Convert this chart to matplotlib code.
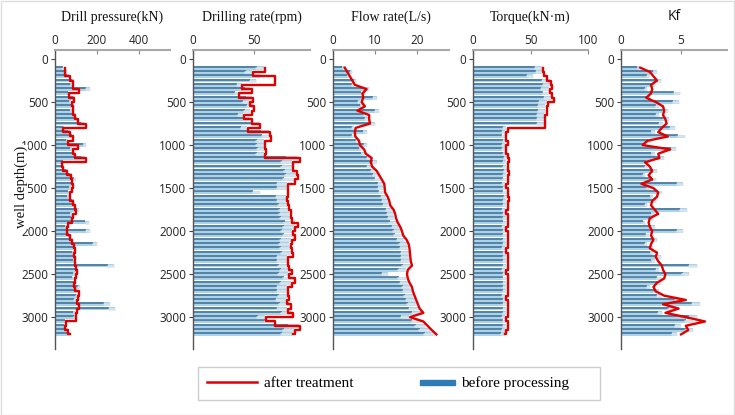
import matplotlib
matplotlib.use('Agg')
import matplotlib.pyplot as plt
import numpy as np
from matplotlib.lines import Line2D
from matplotlib.patches import Rectangle
from matplotlib.legend_handler import HandlerPatch

# depth grid (m)
depth = np.arange(100, 3201, 50)

# Drill pressure (kN)
pressure_after = [48, 50, 72, 86, 88, 112, 66, 92, 82, 88, 86, 96, 108, 150, 38, 72,
                  86, 62, 110, 84, 96, 150, 34, 40, 58, 74, 82, 86, 80, 72, 70, 88,
                  96, 102, 86, 80, 64, 56, 58, 72, 80, 90, 96, 92, 96, 94, 100, 106,
                  100, 96, 92, 96, 116, 110, 106, 112, 104, 100, 98, 52, 48, 62, 70]
pressure_before = [40, 55, 65, 90, 80, 165, 70, 95, 75, 90, 80, 100, 105, 140, 45, 70,
                   90, 60, 150, 80, 95, 140, 40, 45, 60, 80, 100, 85, 75, 70, 65, 90,
                   95, 115, 80, 85, 160, 55, 165, 75, 85, 200, 95, 90, 100, 95, 280, 110,
                   95, 90, 100, 120, 105, 110, 100, 260, 285, 95, 100, 55, 50, 60, 72]

# Drilling rate (rpm)
rate_after = [59, 49, 67, 67, 40, 48, 38, 49, 47, 50, 48, 42, 48, 55, 45, 63,
              64, 59, 59, 60, 59, 88, 82, 82, 85, 86, 84, 78, 78, 78, 77, 78,
              79, 80, 80, 81, 86, 84, 82, 84, 81, 80, 81, 82, 78, 78, 79, 81,
              79, 84, 81, 78, 78, 79, 77, 80, 78, 82, 60, 67, 88, 84, 82]
rate_before = [58, 48, 55, 52, 40, 47, 38, 48, 46, 49, 47, 41, 47, 54, 44, 62,
               63, 58, 58, 59, 58, 85, 81, 81, 84, 85, 83, 77, 77, 55, 76, 77,
               78, 79, 79, 80, 84, 83, 81, 83, 80, 79, 80, 81, 77, 77, 78, 80,
               78, 83, 80, 77, 77, 78, 76, 79, 77, 81, 59, 66, 87, 83, 81]

# Flow rate (L/s)
flow_after = [2.8, 3.4, 4.0, 4.6, 5.2, 8.0, 7.0, 7.2, 6.8, 7.6, 5.8, 8.6, 8.6, 8.8, 5.4, 5.2,
              5.3, 6.2, 6.4, 7.4, 7.8, 9.2, 9.0, 9.3, 10.4, 11.0, 11.6, 12.2, 12.3, 12.4, 13.0, 13.4,
              13.6, 14.4, 14.8, 15.0, 15.4, 16.0, 16.4, 16.7, 17.5, 18.0, 18.2, 18.3, 18.4, 18.5, 18.8, 17.8,
              17.6, 17.8, 18.2, 18.8, 19.0, 19.4, 19.8, 20.2, 20.6, 21.5, 18.3, 21.5, 22.5, 23.5, 24.6]
flow_before = [2.5, 4.5, 3.8, 5.5, 5.0, 8.5, 7.5, 10.5, 6.5, 7.2, 11.0, 8.2, 8.4, 10.0, 5.0, 8.0,
               5.0, 6.0, 8.2, 7.0, 7.5, 9.0, 10.5, 9.0, 10.0, 10.6, 11.2, 11.8, 12.0, 12.1, 12.6, 13.0,
               13.2, 14.0, 14.4, 14.6, 15.0, 15.6, 16.0, 16.3, 17.0, 17.6, 17.8, 18.0, 18.0, 18.1, 18.4, 17.4,
               13.0, 17.4, 17.8, 18.4, 18.6, 19.0, 19.4, 19.8, 20.2, 21.0, 18.0, 21.0, 22.0, 23.0, 24.2]

# Torque (kN·m)
torque_after = [61, 62, 64, 68, 69, 67, 69, 70, 65, 64, 64, 63, 63, 63, 30, 29,
                29, 30, 29, 29, 30, 31, 30, 30, 31, 30, 30, 29, 30, 30, 31, 30,
                30, 29, 30, 30, 30, 29, 30, 30, 30, 30, 29, 30, 30, 30, 30, 29,
                30, 30, 30, 30, 30, 29, 30, 30, 30, 30, 29, 30, 30, 29, 28]
torque_before = [60, 61, 52, 67, 68, 66, 68, 69, 64, 63, 63, 62, 62, 62, 29, 28,
                 28, 29, 28, 28, 29, 30, 29, 29, 30, 29, 29, 28, 29, 29, 30, 29,
                 29, 28, 29, 29, 29, 28, 29, 29, 29, 29, 28, 29, 29, 29, 29, 28,
                 29, 29, 29, 29, 29, 28, 29, 29, 29, 29, 28, 29, 29, 28, 27]

# Kf
kf_after = [1.6, 2.4, 2.7, 3.0, 2.5, 2.6, 2.5, 2.1, 2.9, 3.5, 3.6, 3.5, 3.7, 3.8, 3.4, 3.1,
            3.9, 2.2, 1.8, 4.1, 3.1, 3.2, 2.0, 2.4, 2.6, 2.3, 2.6, 1.7, 2.7, 3.1, 3.0, 2.6,
            2.5, 2.8, 3.1, 2.4, 2.3, 2.4, 2.6, 2.5, 2.7, 2.5, 2.4, 3.0, 2.9, 3.1, 3.4, 3.5,
            3.7, 3.6, 3.0, 2.7, 2.9, 3.6, 5.4, 3.5, 4.8, 3.7, 5.4, 7.0, 5.4, 5.6, 5.0]
kf_before = [1.5, 3.0, 2.4, 3.3, 2.8, 2.2, 4.9, 2.4, 4.8, 3.2, 3.9, 3.2, 4.0, 3.5, 4.5, 2.8,
             5.3, 2.5, 2.0, 4.6, 2.8, 3.6, 2.3, 2.2, 3.0, 2.0, 2.9, 5.2, 2.4, 3.4, 2.7, 2.9,
             2.2, 5.5, 2.8, 2.7, 2.0, 2.8, 5.2, 2.3, 3.0, 2.2, 2.7, 2.7, 3.3, 2.8, 6.3, 3.2,
             5.7, 3.3, 3.3, 2.4, 3.2, 3.3, 5.0, 6.6, 4.4, 3.4, 6.3, 6.0, 5.0, 6.0, 4.7]

titles = ['Drill pressure(kN)', 'Drilling rate(rpm)', 'Flow rate(L/s)', 'Torque(kN·m)', 'Kf']
after_list = [pressure_after, rate_after, flow_after, torque_after, kf_after]
before_list = [pressure_before, rate_before, flow_before, torque_before, kf_before]
xmax_list = [548, 96, 27.6, 100, 8.83]
xticks_list = [[0, 200, 400], [0, 50], [0, 10, 20], [0, 50, 100], [0, 5]]
step_list = [True, True, False, True, False]

W, H = 735, 415
# axes boxes in pixels: (left, right)
boxes = [(55, 170), (193, 310), (333, 449), (473, 588), (621, 727)]
top_px, bot_px = 50, 349

RED = '#e00000'
DARK = '#3a6d96'
LIGHT = '#acd2e7'

fig = plt.figure(figsize=(7.35, 4.15), dpi=100)

serif = 'Liberation Serif'
sans = 'Open Sans'

for k in range(5):
    l, r = boxes[k]
    ax = fig.add_axes([l / W, 1 - bot_px / H, (r - l) / W, (bot_px - top_px) / H])
    after = after_list[k]
    before = before_list[k]

    # before processing: light band with a dark core, tip fading out
    ax.barh(depth, before, height=44, color=LIGHT, zorder=1)
    for d, v in zip(depth, before):
        ax.plot([0, v * 0.9], [d - 12, d - 12], color=DARK, lw=1.1, zorder=2,
                solid_capstyle='butt')
        ax.plot([v * 0.88, v], [d, d], color='#d9e4eb', lw=1.8, zorder=2,
                solid_capstyle='butt')

    # after treatment
    ds = 'steps-pre' if step_list[k] else 'default'
    ax.plot(after, depth, color=RED, lw=1.7, drawstyle=ds, zorder=3)

    ax.set_xlim(0, xmax_list[k])
    ax.set_ylim(3370, -105)
    ax.xaxis.tick_top()
    ax.set_xticks(xticks_list[k])
    ax.set_yticks([0, 500, 1000, 1500, 2000, 2500, 3000])
    ax.tick_params(axis='x', direction='in', length=3, color='#888888', labelsize=8.5,
                   pad=2, labelcolor='#222222')
    ax.tick_params(axis='y', direction='out', length=3, color='#444444', labelsize=8.5,
                   pad=2, labelcolor='#222222')
    for lab in ax.get_xticklabels() + ax.get_yticklabels():
        lab.set_fontfamily(sans)
    for s in ['right', 'bottom']:
        ax.spines[s].set_visible(False)
    ax.spines['top'].set_color('#a8a8a8')
    ax.spines['top'].set_linewidth(1.5)
    ax.spines['left'].set_color('#555555')
    ax.spines['left'].set_linewidth(1.0)

    tfam = sans if titles[k] == 'Kf' else serif
    ax.text(0.5, 1 + 33 / (bot_px - top_px), titles[k], transform=ax.transAxes,
            ha='center', va='center', fontsize=10, family=tfam, color='#111111')

fig.text(21 / W, 1 - 187 / H, 'well depth(m)', rotation=90, ha='center', va='center',
         fontsize=10.5, family=serif, color='#111111',
         bbox=dict(facecolor='white', edgecolor='none', pad=0.5))


def small_rect(legend, orig_handle, xdescent, ydescent, width, height, fontsize):
    return Rectangle((-xdescent + width * 0.32, -ydescent + height * 0.2),
                     width * 0.68, height * 0.45)


handles = [Line2D([], [], color=RED, lw=1.8),
           Rectangle((0, 0), 1, 1, color='#2f7bb6')]
fig.legend(handles, ['after treatment', 'before processing'], loc='center left',
           bbox_to_anchor=(207 / W, 1 - 383.5 / H), ncol=2,
           prop={'family': serif, 'size': 11}, handlelength=3.3, handletextpad=0.45,
           columnspacing=3.3, frameon=False, borderpad=0, borderaxespad=0,
           handler_map={Rectangle: HandlerPatch(patch_func=small_rect)})
fig.add_artist(Rectangle((198 / W, 1 - 400 / H), 402 / W, 33 / H, transform=fig.transFigure,
                         fill=False, edgecolor='#cccccc', lw=1))

fig.add_artist(Rectangle((0.001, 0.001), 0.997, 0.997, transform=fig.transFigure,
                         fill=False, edgecolor='#dddddd', lw=1))

fig.savefig('out.png', dpi=100)
